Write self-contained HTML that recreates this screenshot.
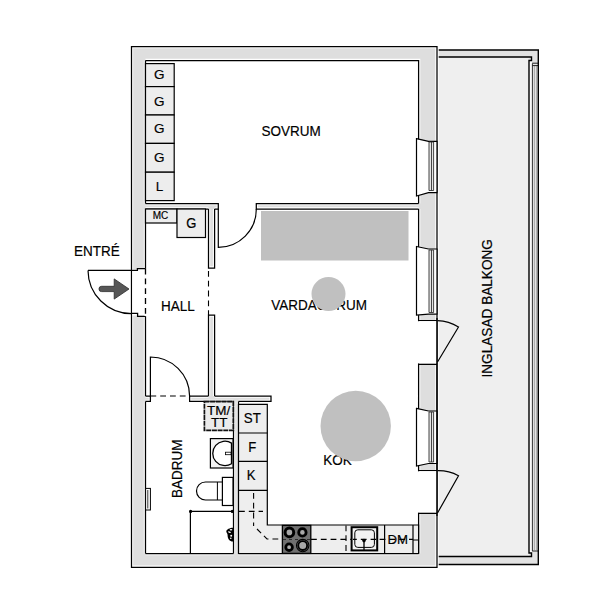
<!DOCTYPE html>
<html><head><meta charset="utf-8">
<style>
html,body{margin:0;padding:0;background:#fff;width:615px;height:615px;overflow:hidden}
svg{display:block}
text{font-family:"Liberation Sans",sans-serif;fill:#000;stroke:#000;stroke-width:0.18px}
</style></head><body>
<svg width="615" height="615" viewBox="0 0 615 615">
<rect x="0" y="0" width="615" height="615" fill="#fff"/>

<!-- balcony -->
<g id="balcony">
<rect x="437" y="50" width="101.3" height="514.5" fill="#e2e2e2"/>
<rect x="437" y="57" width="92" height="499.5" fill="#efefef"/>
<rect x="529" y="60.5" width="3.2" height="492" fill="#fafafa"/>
<rect x="532.2" y="64.3" width="6.1" height="486.7" fill="#e6e6e6"/>
<path d="M534.4 65.5 V550 M536.6 65.5 V550" stroke="#9a9a9a" stroke-width="0.8"/>
<path d="M532.4 63.5 V551" stroke="#333" stroke-width="1"/>
<path d="M532.2 63.2 H538.3 M532.2 65.6 H538.3 M532.2 551 H538.3" stroke="#222" stroke-width="1"/>
<path d="M437 50 H538.3 V564.5 H437" fill="none" stroke="#000" stroke-width="1.4"/>
<path d="M437 57 H531.5 V60.5 H529 V553 H531.5 V556.5 H437" fill="none" stroke="#000" stroke-width="1.4"/>
</g>

<!-- wall fills -->
<g fill="#dedede">
<path fill-rule="evenodd" d="M131.5 46.5 H437 V567.3 H131.5 Z M145.5 60.5 H418.6 V553.5 H145.5 Z"/>
<rect x="144" y="203.5" width="74.3" height="5.5"/>
<rect x="256.3" y="203.5" width="163.5" height="5.5"/>
<rect x="208.5" y="208" width="6.1" height="60"/>
<rect x="208.5" y="315" width="6.1" height="83"/>
<rect x="144" y="396" width="6.4" height="5.4"/>
<rect x="189.6" y="396" width="81.4" height="5.4"/>
<rect x="233.5" y="400" width="5" height="155"/>
</g>
<!-- wall line halos + lines -->
<g id="wl" fill="none">
<path id="wlp" d="M131.5 46.5 H437 V567.3 H131.5 Z
M145.5 60.5 V203.5 M145.5 209 V268.7 M145.5 316.3 V396 M145.5 401.4 V553.5
M145.5 60.5 H418.6 V203.5 M418.6 209 V553.5
M145.5 553.5 H233.5 M238.5 553.5 H418.6
M145.5 203.5 H218.3 V209 H214.6 M208.5 209 H145.5
M418.6 203.5 H256.3 V209 H418.6
M208.5 209 V268 H214.6 V209
M208.5 396 V315 H214.6 V396
M145.5 396 H150.4 V401.4 H145.5
M189.6 396 V401.4 H233.5 M238.5 401.4 H271 V396 H214.6 M208.5 396 H189.6
M233.5 401.4 V553.5 M238.5 401.4 V553.5"/>
</g>
<use href="#wlp" stroke="#fff" stroke-width="3.4" fill="none"/>
<use href="#wlp" stroke="#000" stroke-width="1.25" fill="none"/>
<!-- entry door opening -->
<rect x="132.3" y="269" width="12.5" height="46.5" fill="#fff"/>
<path d="M88 270.4 H137.4 V268.7 H145.5" fill="none" stroke="#000" stroke-width="1.3"/>
<path d="M131.5 313.3 H137.6 V316.3 H145.5" fill="none" stroke="#000" stroke-width="1.3"/>
<path d="M88 270.4 A43.5 43.5 0 0 0 131.5 313.6" fill="none" stroke="#000" stroke-width="1.2"/>
<line x1="145.5" y1="270" x2="145.5" y2="316" stroke="#fff" stroke-width="2"/>
<line x1="145.5" y1="268.7" x2="145.5" y2="316" stroke="#000" stroke-width="1.3" stroke-dasharray="5.8 4"/>
<path d="M101.6 286.3 H114.2 V278.9 L129 289 L114.2 299.1 V291.6 H101.6 A2.65 2.65 0 0 1 101.6 286.3 Z" fill="#575757" stroke="#2a2a2a" stroke-width="0.8" stroke-linejoin="round"/>

<!-- right wall windows & doors -->
<g id="win1">
<path d="M416.5 138.7 L428.5 141.3 H437 V192.7 H428.5 L416.5 196 Z" fill="#fff" stroke="#000" stroke-width="1.2"/>
<rect x="428.8" y="142" width="4.8" height="48.5" fill="#e4e4e4"/>
<path d="M429 142 V190.5 M431.5 142 V190.5 M433.6 142 V190.5 M429 142 H433.6 M429 190.5 H433.6" stroke="#333" stroke-width="0.9"/>
</g>
<g id="win2">
<path d="M416.5 246.5 L428.5 249 H437 V314.2 H428.5 L416.5 315.2 Z" fill="#fff" stroke="#000" stroke-width="1.2"/>
<rect x="428.8" y="250" width="4.8" height="62.5" fill="#e4e4e4"/>
<path d="M429 250 V312.5 M431.5 250 V312.5 M433.6 250 V312.5 M429 250 H433.6 M429 312.5 H433.6" stroke="#333" stroke-width="0.9"/>
</g>
<g id="win3">
<path d="M416.5 408.4 L428.5 411 H437 V463.5 H428.5 L416.5 466 Z" fill="#fff" stroke="#000" stroke-width="1.2"/>
<rect x="428.8" y="412" width="4.8" height="50" fill="#e4e4e4"/>
<path d="M429 412 V462.0 M431.5 412 V462.0 M433.6 412 V462.0 M429 412 H433.6 M429 462.0 H433.6" stroke="#333" stroke-width="0.9"/>
</g>
<!-- balcony doors (openings) -->
<rect x="416.6" y="321.2" width="19.8" height="42.3" fill="#fff"/>
<path d="M418.2 320.5 H437 M418.2 364.3 H437" stroke="#000" stroke-width="1.2"/>
<rect x="416.6" y="471.3" width="19.8" height="41.4" fill="#fff"/>
<path d="M418.6 470.5 H437 M418.6 513.3 H437" stroke="#000" stroke-width="1.2"/>
<line x1="437" y1="318" x2="437" y2="516" stroke="#000" stroke-width="1.3"/>
<path d="M437.5 362 L458.5 327 A41 41 0 0 0 437.5 320.6" fill="none" stroke="#000" stroke-width="1.2"/>
<path d="M437.5 513 L458.5 475.7 A42.5 42.5 0 0 0 437.5 470.7" fill="none" stroke="#000" stroke-width="1.2"/>

<!-- sovrum door -->
<path d="M218.3 209 V247.3 A38 38 0 0 0 256.3 209" fill="none" stroke="#000" stroke-width="1.2"/>
<line x1="208.5" y1="268" x2="208.5" y2="315" stroke="#000" stroke-width="1.1" stroke-dasharray="5.8 4" stroke-dashoffset="-3"/>
<line x1="150.4" y1="396" x2="189.6" y2="396" stroke="#000" stroke-width="1.1" stroke-dasharray="5.8 4"/>
<path d="M150.4 396 V357 A39.2 39.2 0 0 1 189.6 396" fill="none" stroke="#000" stroke-width="1.2"/>

<!-- sovrum closets -->
<g stroke="#000" stroke-width="1.2" fill="#ededed">
<rect x="145.5" y="63.6" width="28.7" height="23"/>
<rect x="145.5" y="86.6" width="28.7" height="28.4"/>
<rect x="145.5" y="115" width="28.7" height="28.4"/>
<rect x="145.5" y="143.4" width="28.7" height="28.8"/>
<rect x="145.5" y="172.2" width="28.7" height="28.4"/>
</g>
<g font-size="13.5" text-anchor="middle">
<text x="159.3" y="79.2">G</text>
<text x="159.3" y="105.5">G</text>
<text x="159.3" y="133.2">G</text>
<text x="159.3" y="161.6">G</text>
<text x="159.6" y="190.8">L</text>
</g>

<!-- hall closets -->
<g stroke="#000" stroke-width="1.2" fill="#ededed">
<rect x="145.5" y="209" width="31.5" height="14"/>
<rect x="177" y="209" width="28.5" height="28.5"/>
</g>
<text x="160.5" y="218.6" font-size="10" text-anchor="middle">MC</text>
<text transform="translate(191.2 227.9) scale(0.93 1)" font-size="14" text-anchor="middle">G</text>

<!-- furniture -->
<rect x="261" y="211" width="147.5" height="49.5" fill="#c0c0c0"/>

<!-- room labels -->
<g font-size="14">
<text transform="translate(261.5 135.8) scale(0.964 1)">SOVRUM</text>
<text transform="translate(271.3 310.2) scale(0.964 1)">VARDAGSRUM</text>
<text transform="translate(161 310.5) scale(0.964 1)">HALL</text>
<text transform="translate(74 255.5) scale(0.964 1)">ENTRÉ</text>
<text transform="translate(323.2 464.6) scale(0.964 1)">KÖK</text>
<text transform="translate(182.4 498) rotate(-90) scale(0.964 1)">BADRUM</text>
<text transform="translate(491.8 377.5) rotate(-90) scale(0.974 1)">INGLASAD BALKONG</text>
</g>
<circle cx="328.5" cy="294" r="17" fill="#c0c0c0"/>
<circle cx="355.7" cy="426" r="35.2" fill="#c0c0c0"/>

<!-- bathroom fixtures -->
<rect x="204.4" y="401.6" width="28.9" height="28.8" fill="#ebebeb" stroke="#111" stroke-width="1.7" stroke-dasharray="5 0.7"/>
<text x="218.6" y="414.6" font-size="13.5" text-anchor="middle">TM/</text>
<text x="219.2" y="426.7" font-size="13.5" text-anchor="middle">TT</text>
<rect x="210.4" y="438.6" width="22.6" height="29.4" fill="#f4f4f4" stroke="#000" stroke-width="1.2"/>
<path d="M231.5 443.1 A12.2 12.2 0 1 0 231.5 463.7 Z" fill="#fff" stroke="#000" stroke-width="1.3"/>
<rect x="225.5" y="452.2" width="5.5" height="2.5" fill="#fff" stroke="#000" stroke-width="0.8"/>
<rect x="222.4" y="477.4" width="10.6" height="28.1" fill="#fff" stroke="#000" stroke-width="1.2"/>
<path d="M222.4 482 H205.5 A9 9 0 0 0 205.5 500 H222.4 Z" fill="#fff" stroke="#000" stroke-width="1.2"/>
<line x1="217.4" y1="482" x2="217.4" y2="500" stroke="#000" stroke-width="1"/>
<path d="M190.4 553.5 V511.4 H233.5" fill="none" stroke="#000" stroke-width="1.2"/>
<circle cx="190.6" cy="511.4" r="1.6" fill="#000"/>
<circle cx="232.3" cy="511.4" r="1.6" fill="#000"/>
<path d="M233 527.8 C230 527.8 226.2 529.5 226.3 531.6 C226.4 533.2 227.8 533.6 227.6 535.5 C227.6 538.5 229.5 541.6 233 541.6 Z" fill="#000"/>
<ellipse cx="231" cy="529.8" rx="1.3" ry="0.8" fill="#fff"/>
<ellipse cx="229.4" cy="532.2" rx="1.5" ry="0.7" transform="rotate(20 229.4 532.2)" fill="#fff"/>
<circle cx="231.2" cy="535.8" r="1" fill="#fff"/>
<circle cx="230.8" cy="538.3" r="0.8" fill="#fff"/>
<rect x="145.6" y="488.4" width="4.8" height="21.6" fill="#fff" stroke="#000" stroke-width="1"/>
<line x1="147.8" y1="490" x2="147.8" y2="508.5" stroke="#000" stroke-width="0.8"/>

<!-- kitchen counter -->
<path d="M238.5 404.3 H267.3 V525 H418.6 V553.5 H238.5 Z" fill="#eeeeee" stroke="#000" stroke-width="1.2"/>
<path d="M238.5 433 H267.3 M238.5 461.3 H267.3 M238.5 490.4 H267.3" stroke="#000" stroke-width="1.2"/>
<g font-size="14.6" text-anchor="middle">
<text transform="translate(252.3 422.6) scale(0.91 1)">ST</text>
<text transform="translate(252.2 451.9) scale(0.9 1)">F</text>
<text transform="translate(251.2 479.9) scale(0.9 1)">K</text>
</g>
<g stroke="#000" stroke-width="1.1" stroke-dasharray="5.8 4" fill="none">
<path d="M253.6 493 V526"/>
<path d="M239 511.4 H263"/>
<path d="M257 529 L267 539 H282"/>
<path d="M311 539.4 H413"/>
<path d="M346 525.5 V553"/>
</g>
<path d="M384.6 525 V553.5 M413 525 V553.5" stroke="#000" stroke-width="1.2"/>
<path d="M413 540 H418.6" stroke="#000" stroke-width="1"/>
<!-- stove -->
<rect x="282.4" y="525.4" width="28.4" height="28" fill="#707070" stroke="#000" stroke-width="1.3"/>
<path d="M283 539.5 H310" stroke="#222" stroke-width="0.9" stroke-dasharray="3 3"/>
<g stroke="#000" fill="#a8a8a8">
<circle cx="289.4" cy="532.4" r="4.3" stroke-width="3"/>
<circle cx="302.4" cy="532.4" r="3.7" stroke-width="2.8"/>
<circle cx="289.1" cy="547.2" r="3.3" stroke-width="2.8" fill="#b0b0b0"/>
<circle cx="302.7" cy="545.6" r="6.2" stroke-width="1.1" fill="none"/>
<circle cx="302.7" cy="545.6" r="4.4" stroke-width="1.8" fill="#a8a8a8"/>
</g>
<!-- sink -->
<rect x="351.6" y="527.2" width="25.6" height="23.2" fill="#f2f2f2" stroke="#000" stroke-width="2"/>
<rect x="354.8" y="529.8" width="19.6" height="17.6" rx="3" fill="none" stroke="#000" stroke-width="1"/>
<line x1="364" y1="540.6" x2="364" y2="550" stroke="#000" stroke-width="1.3"/>
<circle cx="364" cy="540.6" r="1.8" fill="#000"/>
<path d="M353 539.4 H376" stroke="#000" stroke-width="1.1" stroke-dasharray="5.8 4" stroke-dashoffset="2"/>
<text x="397.8" y="543.6" font-size="13.2" text-anchor="middle">DM</text>

</svg>
</body></html>
